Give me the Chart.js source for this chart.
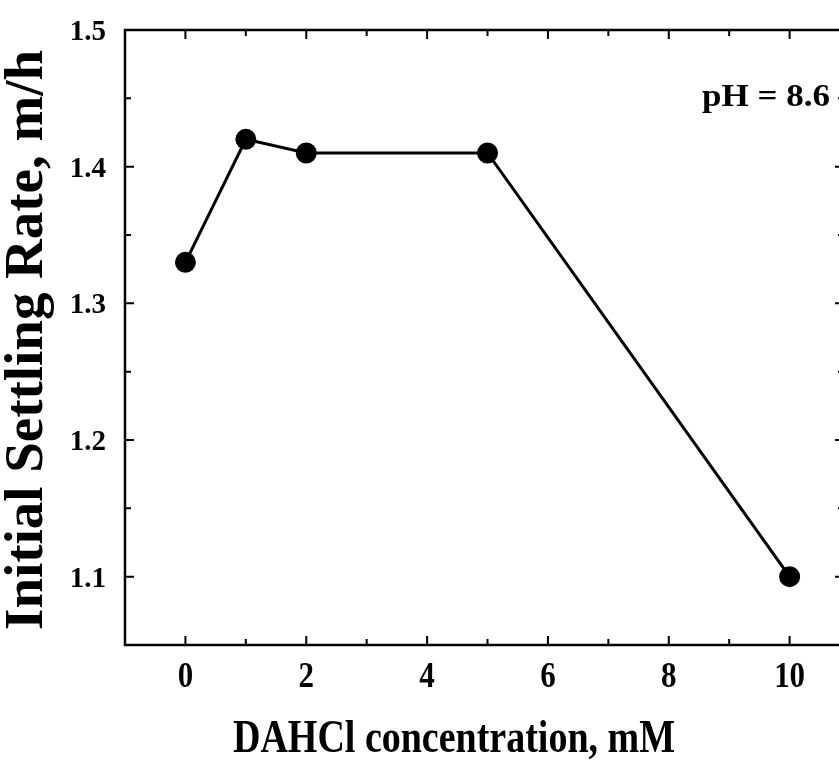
<!DOCTYPE html>
<html>
<head>
<meta charset="utf-8">
<script src="https://cdn.jsdelivr.net/npm/chart.js@4"></script>
<style>
  html, body { margin: 0; padding: 0; background: #fff; overflow: hidden; }
  #wrap { width: 856px; height: 761px; }
</style>
</head>
<body>
<div id="wrap"><canvas id="chart" width="856" height="761"></canvas></div>
<script>
'use strict';

const concentrations = [0, 1, 2, 5, 10];
const settlingRates = [1.33, 1.42, 1.41, 1.41, 1.10];
const xTickValues = [-1, 0, 1, 2, 3, 4, 5, 6, 7, 8, 9, 10];
const xTickLabels = ['', '0', '', '2', '', '4', '', '6', '', '8', '', '10'];
const yTickValues = [1.05, 1.1, 1.15, 1.2, 1.25, 1.3, 1.35, 1.4, 1.45, 1.5];
const yTickLabels = ['', '1.1', '', '1.2', '', '1.3', '', '1.4', '', '1.5'];
const xTitle = 'DAHCl concentration, mM';
const yTitle = 'Initial Settling Rate, m/h';
const annotationText = 'pH = 8.6';

const FONT = '"Liberation Serif", "Times New Roman", serif';

// text in the scan is a bit stretched, so fit each string to its measured width
function drawText(ctx, text, x, y, size, opts = {}) {
  ctx.save();
  ctx.font = `bold ${size}px ${FONT}`;
  ctx.fillStyle = '#000';
  ctx.textBaseline = 'alphabetic';
  ctx.textAlign = 'left';
  const w = ctx.measureText(text).width;
  const sx = opts.width ? opts.width / w : (opts.sx || 1);
  ctx.translate(x, y);
  if (opts.rotate) ctx.rotate(opts.rotate);
  ctx.scale(sx, 1);
  const align = opts.align || 'left';
  const dx = align === 'center' ? -w / 2 : align === 'right' ? -w : 0;
  ctx.fillText(text, dx, 0);
  ctx.restore();
}

const frameTicks = {
  id: 'frameTicks',
  afterDraw(chart) {
    const { ctx, chartArea: a, scales } = chart;
    ctx.save();
    ctx.strokeStyle = '#000';
    ctx.lineWidth = 2.5;
    ctx.beginPath();
    ctx.moveTo(a.right, a.top);
    ctx.lineTo(a.left, a.top);
    ctx.lineTo(a.left, a.bottom);
    ctx.lineTo(a.right, a.bottom);
    ctx.stroke();
    ctx.lineWidth = 2;
    xTickValues.forEach((v, i) => {
      const x = scales.x.getPixelForValue(v);
      const len = xTickLabels[i] ? 9 : 6;
      ctx.beginPath();
      ctx.moveTo(x, a.bottom); ctx.lineTo(x, a.bottom - len);
      ctx.moveTo(x, a.top); ctx.lineTo(x, a.top + len);
      ctx.stroke();
      if (xTickLabels[i]) {
        drawText(ctx, xTickLabels[i], x, a.bottom + 42, 36, { align: 'center', sx: 0.86 });
      }
    });
    yTickValues.forEach((v, i) => {
      const y = scales.y.getPixelForValue(v);
      const len = yTickLabels[i] ? 9 : 6;
      ctx.beginPath();
      ctx.moveTo(a.left, y); ctx.lineTo(a.left + len, y);
      ctx.moveTo(a.right, y); ctx.lineTo(a.right - len, y);
      ctx.stroke();
      if (yTickLabels[i]) {
        drawText(ctx, yTickLabels[i], a.left - 19, y + 10, 29, { align: 'right' });
      }
    });
    ctx.restore();

    drawText(ctx, xTitle, 454, 752, 46, { align: 'center', width: 442 });
    drawText(ctx, yTitle, 42, 340, 54, { align: 'center', width: 580, rotate: -Math.PI / 2 });
    drawText(ctx, annotationText, 830, 106, 31, { align: 'right', width: 128 });
  }
};

new Chart(document.getElementById('chart'), {
  type: 'line',
  data: {
    datasets: [{
      data: concentrations.map((x, i) => ({ x, y: settlingRates[i] })),
      borderColor: '#000',
      backgroundColor: '#000',
      borderWidth: 3,
      pointRadius: 9,
      pointHoverRadius: 9,
      tension: 0,
    }],
  },
  options: {
    responsive: false,
    animation: false,
    events: [],
    layout: { padding: { top: 30, right: 2, left: 0, bottom: 0 } },
    plugins: { legend: { display: false }, tooltip: { enabled: false } },
    scales: {
      x: {
        type: 'linear',
        min: -1,
        max: 10.9,
        afterBuildTicks: scale => { scale.ticks = xTickValues.map(value => ({ value })); },
        afterFit: scale => { scale.height = 116; },
        grid: { display: false, drawTicks: false },
        border: { display: false },
        ticks: { display: false },
      },
      y: {
        type: 'linear',
        min: 1.05,
        max: 1.5,
        afterBuildTicks: scale => { scale.ticks = yTickValues.map(value => ({ value })); },
        afterFit: scale => { scale.width = 125; },
        grid: { display: false, drawTicks: false },
        border: { display: false },
        ticks: { display: false },
      },
    },
  },
  plugins: [frameTicks],
});
</script>
</body>
</html>
